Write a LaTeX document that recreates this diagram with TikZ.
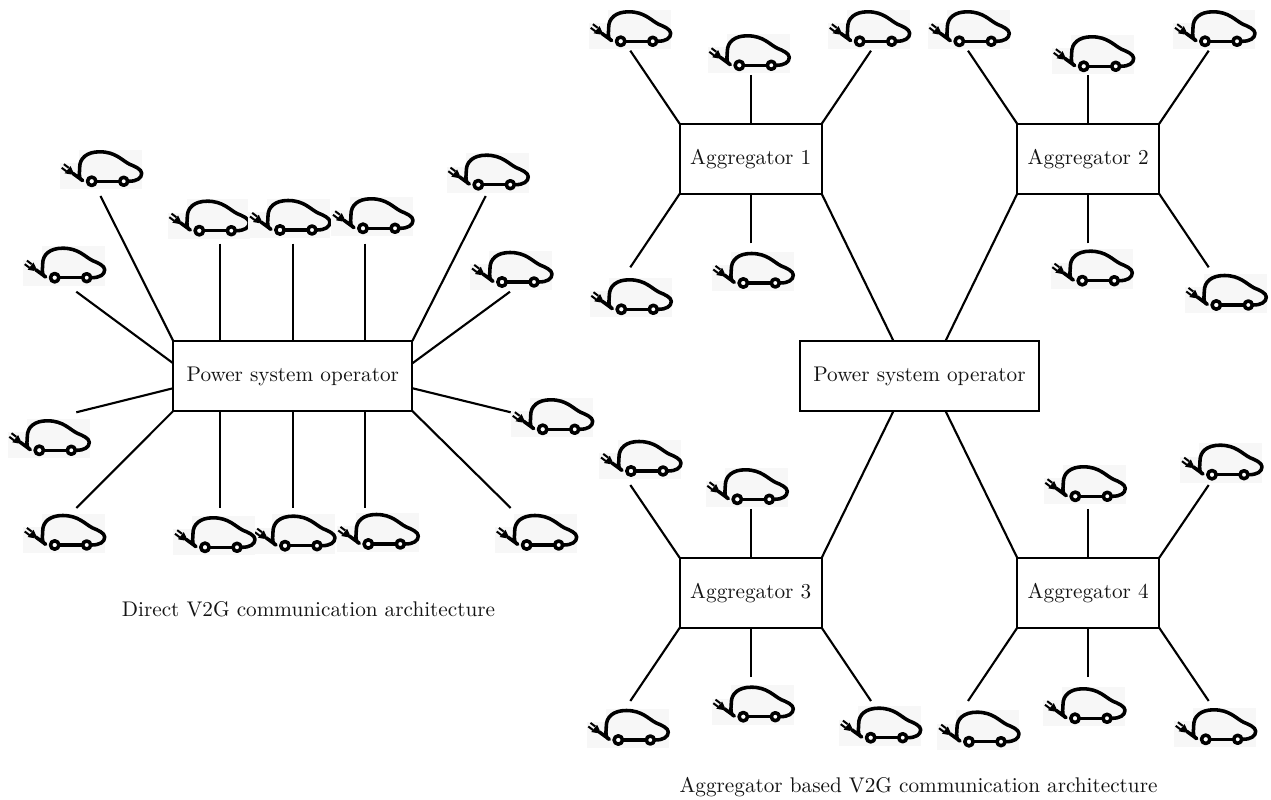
\documentclass[tikz,border=0pt]{standalone}
\usetikzlibrary{positioning,
        arrows.meta}

\tikzset{
    every node/.style={font=\fontsize{9.55}{11}\selectfont,text=black!92},
    opbox/.style={rectangle,draw,line width=0.95pt,inner sep=0pt,outer sep=0pt,minimum width=107.6pt,minimum height=31.5pt},
    aggbox/.style={rectangle,draw,line width=0.95pt,inner sep=0pt,outer sep=0pt,minimum width=63.9pt,minimum height=31.5pt},
    carbg/.style={rectangle,fill=black!3,inner sep=0pt,outer sep=0pt,minimum width=36.9pt,minimum height=17.8pt},
    link/.style={line width=0.95pt},
    carline/.style={line width=1.6pt,line cap=round,line join=round},
    evcarshape/.pic={
        \fill [white] (-32,-32) rectangle (-12.7,-18);
        % body and cord
        \draw [carline] (37,0) .. controls (45,0) and (50,-3) .. (50,-8) .. controls (50,-12) and (43,-15) .. (38,-17) .. controls (30,-21) and (24,-29.5) .. (8,-29.5) .. controls (-5,-29.5) and (-12,-23) .. (-12,-14) .. controls (-12,-9) and (-13,-6) .. (-12,-4) .. controls (-11.5,-2) and (-10,-1) .. (-9,-0.7) -- (-19,-8);
        \fill (-21.2,-15.2) -- (-27,-8) -- (-20.6,-6.8) -- (-18.6,-9.7) -- cycle;
        \draw [line width=0.9pt] (-23,-13.5) -- (-27.8,-17.1);
        \draw [line width=0.9pt] (-25.2,-9.9) -- (-30,-13.5);
        \draw [carline] (0,0) -- (32,0);
        \draw [carline,fill=white] (0,0) circle (4.2);
        \draw [carline,fill=white] (32,0) circle (4);
    }
}
% car node, placed by its rear wheel
\newcommand{\evcar}[3]{
    \node [carbg] (#1) at ({#2+9.3},{#3-11.7}) {};
    \pic at (#2,#3) {evcarshape};
}

\begin{document}
\begin{tikzpicture}[x=0.45pt,y=-0.45pt]
    \useasboundingbox (0,0) rectangle (1271,800);

    % direct architecture
    \node [opbox] (op1) at (292.8,376) {Power system operator};
    \evcar{d1}{91.7}{181.3}
    \evcar{d2}{54.7}{277.7}
    \evcar{d3}{199.3}{230.7}
    \evcar{d4}{280}{230}
    \evcar{d5}{363}{228.3}
    \evcar{d6}{478.3}{184.7}
    \evcar{d7}{502}{282}
    \evcar{d8}{542.7}{429.3}
    \evcar{d9}{526.7}{545}
    \evcar{d10}{368.3}{544}
    \evcar{d11}{285}{545.7}
    \evcar{d12}{205}{547.3}
    \evcar{d13}{54.7}{545}
    \evcar{d14}{39.3}{450.3}

    \coordinate (e1) at (100.5,196);
    \coordinate (e2) at (76.3,291.7);
    \coordinate (e3) at (220.3,243.7);
    \coordinate (e4) at (293.3,243.7);
    \coordinate (e5) at (365.3,243.7);
    \coordinate (e6) at (485.7,196);
    \coordinate (e7) at (510,291.7);
    \coordinate (e8) at (510.7,412.3);
    \coordinate (e9) at (510.7,508);
    \coordinate (e10) at (365.3,508);
    \coordinate (e11) at (293.3,508);
    \coordinate (e12) at (220.3,508);
    \coordinate (e13) at (76.3,508);
    \coordinate (e14) at (76.3,412.3);

    \draw [link] (e1) -- (op1.north west);
    \draw [link] (e2) -- ([yshift=5.7pt]op1.west);
    \draw [link] (e3) -- (e3 |- op1.north);
    \draw [link] (e4) -- (e4 |- op1.north);
    \draw [link] (e5) -- (e5 |- op1.north);
    \draw [link] (e6) -- (op1.north east);
    \draw [link] (e7) -- ([yshift=5.7pt]op1.east);
    \draw [link] (e8) -- ([yshift=-5.5pt]op1.east);
    \draw [link] (e9) -- (op1.south east);
    \draw [link] (e10) -- (e10 |- op1.south);
    \draw [link] (e11) -- (e11 |- op1.south);
    \draw [link] (e12) -- (e12 |- op1.south);
    \draw [link] (e13) -- (op1.south west);
    \draw [link] (e14) -- ([yshift=-5.5pt]op1.west);

    \node (cap1) at (308.5,609) {Direct V2G communication architecture};

    % aggregator architecture
    \node [opbox] (op2) at (919.5,376) {Power system operator};
    \node [aggbox] (ag1) at (750.7,158.8) {Aggregator 1};
    \node [aggbox] (ag2) at (1088.2,158.8) {Aggregator 2};
    \node [aggbox] (ag3) at (750.7,592.8) {Aggregator 3};
    \node [aggbox] (ag4) at (1088.2,592.8) {Aggregator 4};

    \draw [link] (ag1.south east) -- ([xshift=-11.7pt]op2.north);
    \draw [link] (ag2.south west) -- ([xshift=11.7pt]op2.north);
    \draw [link] (ag3.north east) -- ([xshift=-11.7pt]op2.south);
    \draw [link] (ag4.north west) -- ([xshift=11.7pt]op2.south);

    \evcar{a11}{620.7}{41.3}
    \evcar{a12}{739.3}{65.3}
    \evcar{a13}{859.7}{41.3}
    \evcar{a14}{621.3}{309.3}
    \evcar{a15}{743.3}{283}

    \evcar{a21}{959.3}{41.3}
    \evcar{a22}{1083.7}{66.3}
    \evcar{a23}{1205}{41.3}
    \evcar{a24}{1082.3}{280.7}
    \evcar{a25}{1216.3}{305}

    \evcar{a31}{631}{471}
    \evcar{a32}{737.3}{499.3}
    \evcar{a33}{618.3}{740}
    \evcar{a34}{743.3}{716.7}
    \evcar{a35}{870.7}{737.7}

    \evcar{a41}{1075.3}{496.3}
    \evcar{a42}{1212}{474.7}
    \evcar{a43}{969}{741.7}
    \evcar{a44}{1075}{718.3}
    \evcar{a45}{1205.7}{739.3}

    \coordinate (f11) at (630.3,50.7);
    \coordinate (f12) at (750.7,75);
    \coordinate (f13) at (871,50.7);
    \coordinate (f14) at (630.3,267.3);
    \coordinate (f15) at (750.7,243.3);
    \draw [link] (f11) -- (ag1.north west);
    \draw [link] (f12) -- (ag1.north);
    \draw [link] (f13) -- (ag1.north east);
    \draw [link] (f14) -- (ag1.south west);
    \draw [link] (f15) -- (ag1.south);

    \coordinate (f21) at (968,50.7);
    \coordinate (f22) at (1088.2,75);
    \coordinate (f23) at (1208.7,50.7);
    \coordinate (f24) at (1088.2,243.3);
    \coordinate (f25) at (1208.7,267.3);
    \draw [link] (f21) -- (ag2.north west);
    \draw [link] (f22) -- (ag2.north);
    \draw [link] (f23) -- (ag2.north east);
    \draw [link] (f24) -- (ag2.south);
    \draw [link] (f25) -- (ag2.south east);

    \coordinate (f31) at (630.3,485);
    \coordinate (f32) at (750.7,509);
    \coordinate (f33) at (630.3,701);
    \coordinate (f34) at (750.7,677);
    \coordinate (f35) at (871,701);
    \draw [link] (f31) -- (ag3.north west);
    \draw [link] (f32) -- (ag3.north);
    \draw [link] (f33) -- (ag3.south west);
    \draw [link] (f34) -- (ag3.south);
    \draw [link] (f35) -- (ag3.south east);

    \coordinate (f41) at (1088.2,509);
    \coordinate (f42) at (1208.7,485);
    \coordinate (f43) at (968,701);
    \coordinate (f44) at (1088.2,677);
    \coordinate (f45) at (1208.7,701);
    \draw [link] (f41) -- (ag4.north);
    \draw [link] (f42) -- (ag4.north east);
    \draw [link] (f43) -- (ag4.south west);
    \draw [link] (f44) -- (ag4.south);
    \draw [link] (f45) -- (ag4.south east);

    \node (cap2) at (918.5,787) {Aggregator based V2G communication architecture};
\end{tikzpicture}
\end{document}
